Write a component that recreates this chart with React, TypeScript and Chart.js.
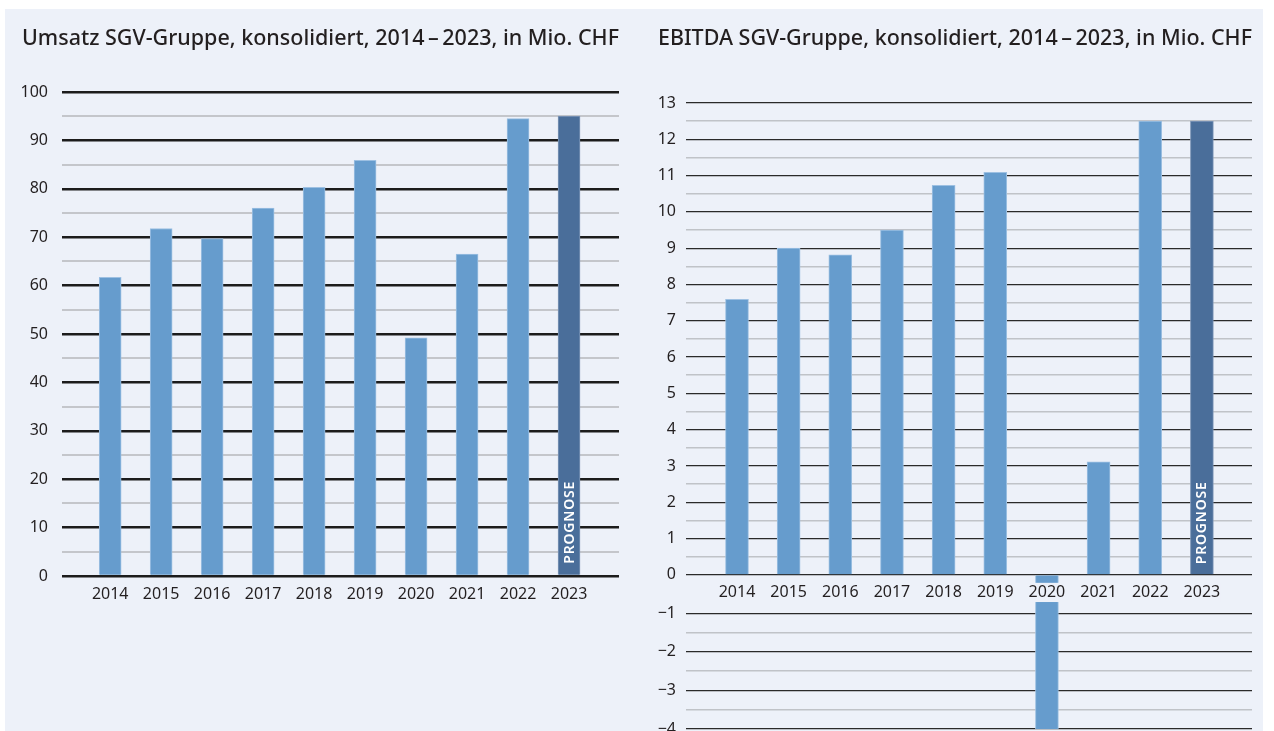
import React, { useEffect, useRef } from 'react';
import { Chart, registerables, LinearScale } from 'chart.js';

Chart.register(...registerables);

// ---------- data ----------
const years = [2014, 2015, 2016, 2017, 2018, 2019, 2020, 2021, 2022, 2023];
const umsatz = [61.7, 71.8, 69.7, 76.0, 80.3, 85.9, 49.2, 66.5, 94.5, 95.0];
const ebitda = [7.59, 9.0, 8.82, 9.5, 10.73, 11.09, -4.4, 3.11, 12.5, 12.5];
const umsatzTicks = [0, 10, 20, 30, 40, 50, 60, 70, 80, 90, 100];
const ebitdaTicks = [-4, -3, -2, -1, 0, 1, 2, 3, 4, 5, 6, 7, 8, 9, 10, 11, 12, 13];
const ebitdaNoMinorBelow = [0]; // no half-step line right under the zero line (label band)
const prognoseYear = 2023;
const prognoseLabel = 'PROGNOSE';
const umsatzTitle = 'Umsatz SGV-Gruppe, konsolidiert, 2014\u2009\u2013\u20092023, in Mio. CHF';
const ebitdaTitle = 'EBITDA SGV-Gruppe, konsolidiert, 2014\u2009\u2013\u20092023, in Mio. CHF';

// ---------- style ----------
const BG = '#EDF1F9';
const TEXT = '#231F20';
const BAR = '#669CCD';
const BAR_EDGE = '#9DC0E2';
const BAR_PROG = '#4A6E9A';
const BAR_PROG_EDGE = '#7F97B8';
const FONT = '"Noto Sans", sans-serif';

const barColors = years.map((y) => (y === prognoseYear ? BAR_PROG : BAR));
const barEdges = years.map((y) => (y === prognoseYear ? BAR_PROG_EDGE : BAR_EDGE));

const fmt = (v: number) => (v < 0 ? '\u2212' + Math.abs(v) : String(v));

function withMinor(major: number[], skipBelow: number[] = []) {
  const out: number[] = [];
  major.forEach((v, i) => {
    out.push(v);
    if (i < major.length - 1) {
      const next = major[i + 1];
      if (!skipBelow.includes(next)) out.push((v + next) / 2);
    }
  });
  return out;
}

// linear scale whose negative part is drawn slightly stretched (as in the source graphic)
class SplitLinearScale extends LinearScale {
  static id = 'splitLinear';
  static defaults = LinearScale.defaults;
  _k(): number {
    const k = (this as any).options?.negStretch;
    return typeof k === 'number' ? k : 1;
  }
  _t(v: number): number {
    return v < 0 ? v * this._k() : v;
  }
  getPixelForValue(value: any) {
    if (value === null || value === undefined || isNaN(value)) return NaN;
    const a = this._t((this as any).min);
    const b = this._t((this as any).max);
    return (this as any).getPixelForDecimal((this._t(value) - a) / (b - a));
  }
  getValueForPixel(pixel: number) {
    const a = this._t((this as any).min);
    const b = this._t((this as any).max);
    const t = a + (this as any).getDecimalForPixel(pixel) * (b - a);
    return t < 0 ? t / this._k() : t;
  }
}
Chart.register(SplitLinearScale as any);

const prognosePlugin = {
  id: 'prognose',
  afterDatasetsDraw(chart: any, _args: any, opts: any) {
    const idx = years.indexOf(prognoseYear);
    const el = chart.getDatasetMeta(0).data[idx];
    if (!el) return;
    const { x, base } = el.getProps(['x', 'base'], true);
    const ctx = chart.ctx;
    ctx.save();
    ctx.translate(x + 0.5, base - opts.offset);
    ctx.rotate(-Math.PI / 2);
    ctx.fillStyle = '#FFFFFF';
    ctx.font = `600 14px ${FONT}`;
    (ctx as any).letterSpacing = '0.8px';
    ctx.textAlign = 'left';
    ctx.textBaseline = 'middle';
    ctx.fillText(prognoseLabel, 0, 0);
    ctx.restore();
  },
};

const tickFont = { family: FONT, size: 16 };
const titleFont = { family: FONT, size: 21.5, weight: '500' as const };

function umsatzConfig(): any {
  const all = withMinor(umsatzTicks);
  const isMajor = (v: number) => umsatzTicks.includes(v);
  return {
    type: 'bar',
    data: {
      datasets: [
        {
          data: years.map((x, i) => ({ x, y: umsatz[i] })),
          backgroundColor: barColors,
          borderColor: barEdges,
          borderWidth: 1,
          barThickness: 22,
        },
      ],
    },
    options: {
      animation: false,
      responsive: false,
      events: [],
      layout: { padding: { left: 17, right: 16, top: 0, bottom: 13 } },
      plugins: {
        legend: { display: false },
        tooltip: { enabled: false },
        title: {
          display: true,
          text: umsatzTitle,
          align: 'start',
          color: TEXT,
          font: titleFont,
          padding: { top: 16.6, bottom: 40.6 },
        },
        prognose: { offset: 11 },
      },
      scales: {
        x: {
          type: 'linear',
          min: 2013.055,
          max: 2023.98,
          offset: false,
          grid: { display: false, offset: false, drawTicks: false },
          border: { display: false },
          ticks: {
            autoSkip: false,
            maxRotation: 0,
            padding: 8.4,
            color: TEXT,
            font: tickFont,
            callback: (v: number) => String(v),
          },
          afterBuildTicks: (s: any) => {
            s.ticks = years.map((v) => ({ value: v }));
          },
          afterFit: (s: any) => {
            s.height = 40;
          },
        },
        y: {
          type: 'linear',
          min: 0,
          max: 100,
          afterBuildTicks: (s: any) => {
            s.ticks = all.map((v) => ({ value: v }));
          },
          afterFit: (s: any) => {
            s.width = 40;
          },
          ticks: {
            autoSkip: false,
            padding: 14,
            color: TEXT,
            font: tickFont,
            callback: (v: number) => (isMajor(v) ? fmt(v) : ''),
          },
          grid: {
            drawTicks: false,
            color: (c: any) => (c.tick && isMajor(c.tick.value) ? '#1C1C1C' : '#C4C6CB'),
            lineWidth: (c: any) => (c.tick && isMajor(c.tick.value) ? 2.5 : 2),
          },
          border: { display: false },
        },
      },
    },
    plugins: [prognosePlugin],
  };
}

function ebitdaConfig(): any {
  const all = withMinor(ebitdaTicks, ebitdaNoMinorBelow);
  const isMajor = (v: number) => ebitdaTicks.includes(v);
  return {
    type: 'bar',
    data: {
      datasets: [
        {
          data: years.map((x, i) => ({ x, y: ebitda[i] })),
          backgroundColor: barColors,
          borderColor: barEdges,
          borderWidth: 1,
          barThickness: 23,
        },
      ],
    },
    options: {
      animation: false,
      responsive: false,
      events: [],
      layout: { padding: { left: 18, right: 11, top: 0, bottom: 20 } },
      plugins: {
        legend: { display: false },
        tooltip: { enabled: false },
        title: {
          display: true,
          text: ebitdaTitle,
          align: 'start',
          color: TEXT,
          font: titleFont,
          padding: { top: 16.6, bottom: 51.6 },
        },
        prognose: { offset: 10 },
      },
      scales: {
        x: {
          type: 'linear',
          position: { y: 0 },
          min: 2013.013,
          max: 2023.97,
          offset: false,
          grid: { display: false, offset: false, drawTicks: false },
          border: { display: false },
          ticks: {
            z: 1,
            autoSkip: false,
            maxRotation: 0,
            padding: 8,
            color: TEXT,
            font: tickFont,
            showLabelBackdrop: true,
            backdropColor: BG,
            backdropPadding: 0,
            callback: (v: number) => String(v),
          },
          afterBuildTicks: (s: any) => {
            s.ticks = years.map((v) => ({ value: v }));
          },
        },
        y: {
          type: 'splitLinear',
          negStretch: 1.062,
          min: -4,
          max: 13,
          afterBuildTicks: (s: any) => {
            s.ticks = all.map((v) => ({ value: v }));
          },
          afterFit: (s: any) => {
            s.width = 28;
          },
          ticks: {
            autoSkip: false,
            padding: 10,
            color: TEXT,
            font: tickFont,
            callback: (v: number) => (isMajor(v) ? fmt(v) : ''),
          },
          grid: {
            drawTicks: false,
            color: (c: any) => (c.tick && isMajor(c.tick.value) ? '#2A2A2A' : '#C0C3C8'),
            lineWidth: (c: any) => (c.tick && isMajor(c.tick.value) ? 1.2 : 1.6),
          },
          border: { display: false },
        },
      },
    },
    plugins: [prognosePlugin],
  };
}

export default function App() {
  const leftRef = useRef<HTMLCanvasElement>(null);
  const rightRef = useRef<HTMLCanvasElement>(null);

  useEffect(() => {
    const charts: Chart[] = [];
    if (leftRef.current) charts.push(new Chart(leftRef.current, umsatzConfig()));
    if (rightRef.current) charts.push(new Chart(rightRef.current, ebitdaConfig()));
    return () => charts.forEach((c) => c.destroy());
  }, []);

  return (
    <div
      style={{
        position: 'fixed',
        left: 0,
        top: 0,
        width: 1274,
        height: 731,
        overflow: 'hidden',
        background: '#FFFFFF',
      }}
    >
      <div
        style={{
          position: 'absolute',
          left: 5,
          top: 9,
          width: 1258,
          height: 740,
          background: BG,
        }}
      >
        <canvas
          ref={leftRef}
          width={630}
          height={620}
          style={{ position: 'absolute', left: 0, top: 0, width: 630, height: 620 }}
        />
        <canvas
          ref={rightRef}
          width={623}
          height={740}
          style={{ position: 'absolute', left: 635, top: 0, width: 623, height: 740 }}
        />
      </div>
    </div>
  );
}
